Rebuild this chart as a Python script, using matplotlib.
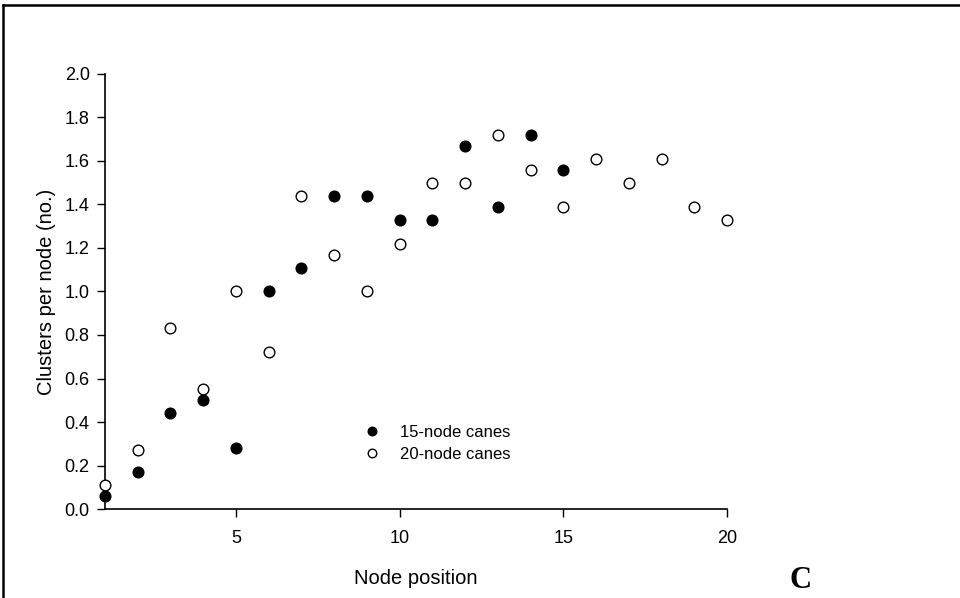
import matplotlib.pyplot as plt
from matplotlib.lines import Line2D

plt.rcParams['font.family'] = ['Liberation Sans', 'DejaVu Sans']

# node positions and clusters per node
nodes_15 = list(range(1, 16))
clusters_15 = [0.06, 0.17, 0.44, 0.50, 0.28, 1.00, 1.11, 1.44, 1.44, 1.33,
               1.33, 1.67, 1.39, 1.72, 1.56]

nodes_20 = list(range(1, 21))
clusters_20 = [0.11, 0.27, 0.83, 0.55, 1.00, 0.72, 1.44, 1.17, 1.00, 1.22,
               1.50, 1.50, 1.72, 1.56, 1.39, 1.61, 1.50, 1.61, 1.39, 1.33]

fig = plt.figure(figsize=(9.6, 5.98), dpi=100)
ax = fig.add_axes([0.1094, 0.1488, 0.6479, 0.7275])

ax.plot(nodes_15, clusters_15, 'o', color='black', markersize=7.7,
        label='15-node canes', clip_on=False, zorder=3)
ax.plot(nodes_20, clusters_20, 'o', markerfacecolor='white',
        markeredgecolor='black', markeredgewidth=1.0, markersize=7.7,
        label='20-node canes', clip_on=False, zorder=3)

ax.set_xlim(1, 20)
ax.set_ylim(0, 2.0)
ax.set_xticks([5, 10, 15, 20])
ax.set_yticks([0.0, 0.2, 0.4, 0.6, 0.8, 1.0, 1.2, 1.4, 1.6, 1.8, 2.0])
ax.set_yticklabels([f'{v:.1f}' for v in ax.get_yticks()])
ax.tick_params(direction='out', length=6, width=1, labelsize=13, pad=5)
ax.tick_params(axis='x', pad=9)
for s in ['top', 'right']:
    ax.spines[s].set_visible(False)
for s in ['left', 'bottom']:
    ax.spines[s].set_linewidth(1.2)

ax.set_xlabel('Node position', fontsize=14.5, labelpad=16)
ax.set_ylabel('Clusters per node (no.)', fontsize=14.5, labelpad=6)

leg = ax.legend(loc='upper left', bbox_to_anchor=(0.378, 0.228), frameon=False,
                fontsize=12, handletextpad=0.7, labelspacing=0.45,
                markerscale=0.8)

fig.text(0.8335, 0.0167, 'C', fontsize=22, fontweight='bold',
         family=['Liberation Serif', 'DejaVu Serif'], ha='center')

# figure frame lines (top and left)
fig.add_artist(Line2D([0.003, 1.0], [0.991, 0.991], color='black', lw=1.8,
                      transform=fig.transFigure))
fig.add_artist(Line2D([0.0035, 0.0035], [0.0, 0.991], color='black', lw=1.8,
                      transform=fig.transFigure))

fig.savefig('out.png', dpi=100)
